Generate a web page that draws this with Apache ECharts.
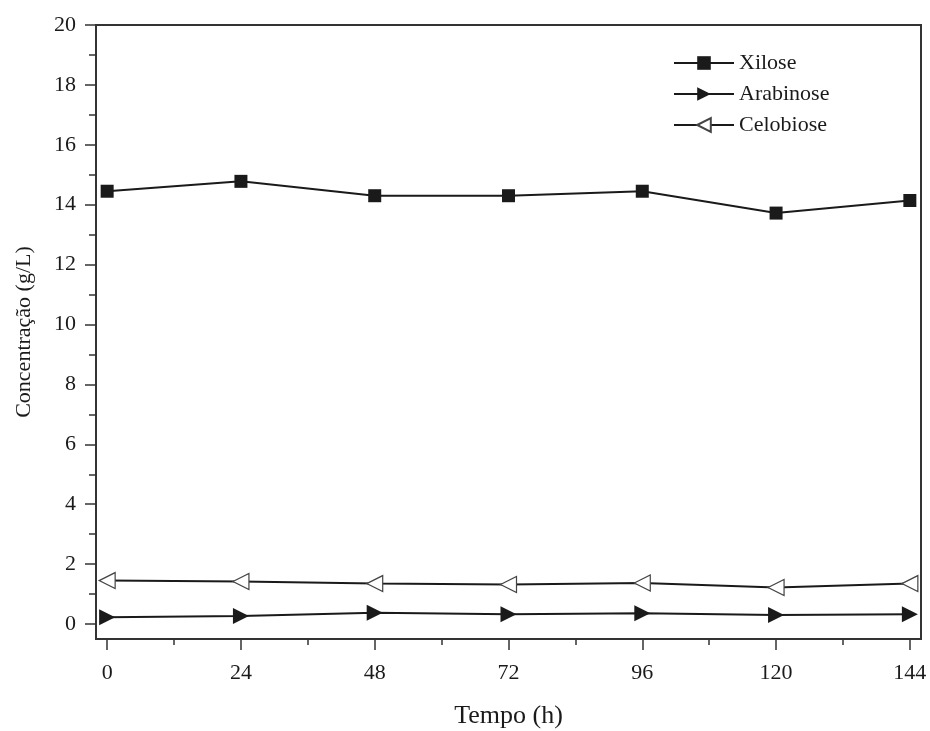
<!DOCTYPE html>
<html><head><meta charset="utf-8">
<script src="https://cdn.jsdelivr.net/npm/echarts@6/dist/echarts.min.js"></script>
<style>html,body{margin:0;padding:0;background:#fff}#c{width:930px;height:731px}</style>
</head><body><div id="c"></div>
<script>
const tempo = [0, 24, 48, 72, 96, 120, 144];
const xilose = [14.45, 14.78, 14.30, 14.30, 14.45, 13.72, 14.14];
const arabinose = [0.23, 0.27, 0.38, 0.33, 0.36, 0.30, 0.33];
const celobiose = [1.45, 1.42, 1.35, 1.32, 1.37, 1.22, 1.35];
const xTicks = [0, 24, 48, 72, 96, 120, 144];
const xMinor = [12, 36, 60, 84, 108, 132];
const yTicks = [0, 2, 4, 6, 8, 10, 12, 14, 16, 18, 20];
const yMinor = [1, 3, 5, 7, 9, 11, 13, 15, 17, 19];

const font = 'Liberation Serif';
const col = '#1a1a1a';
const chart = echarts.init(document.getElementById('c'));
const pair = (arr) => tempo.map((t, i) => [t, arr[i]]);
chart.setOption({
  animation: false,
  textStyle: { fontFamily: font },
  grid: { left: 96, right: 9, top: 25, bottom: 92, outerBoundsMode: 'none', containLabel: false,
          show: true, borderColor: '#333', borderWidth: 2 },
  legend: {
    orient: 'vertical', left: 668, top: 47, itemWidth: 60, itemHeight: 17, itemGap: 9,
    textStyle: { fontFamily: font, fontSize: 22, color: col },
    data: ['Xilose', 'Arabinose', 'Celobiose']
  },
  xAxis: [{
    type: 'value', min: -2, max: 146, position: 'bottom',
    name: 'Tempo (h)', nameLocation: 'middle', nameGap: 64,
    nameTextStyle: { fontFamily: font, fontSize: 26, color: col },
    axisLine: { onZero: false, lineStyle: { color: '#333', width: 2 } },
    axisTick: { customValues: xTicks, length: 11, lineStyle: { color: '#333', width: 1.5 } },
    axisLabel: { customValues: xTicks, margin: 23, fontFamily: font, fontSize: 22, color: col },
    splitLine: { show: false }
  }, {
    type: 'value', min: -2, max: 146, position: 'bottom',
    axisLine: { show: false, onZero: false },
    axisTick: { customValues: xMinor, length: 6, lineStyle: { color: '#333', width: 1.5 } },
    axisLabel: { show: false }, splitLine: { show: false }
  }],
  yAxis: [{
    type: 'value', min: -0.5, max: 20, position: 'left',
    name: 'Concentração (g/L)', nameLocation: 'middle', nameGap: 61,
    nameTextStyle: { fontFamily: font, fontSize: 22, color: col },
    axisLine: { show: true, onZero: false, lineStyle: { color: '#333', width: 2 } },
    axisTick: { show: true, customValues: yTicks, length: 11, lineStyle: { color: '#333', width: 1.5 } },
    axisLabel: { customValues: yTicks, margin: 20, fontFamily: font, fontSize: 22, color: col },
    splitLine: { show: false }
  }, {
    type: 'value', min: -0.5, max: 20, position: 'left',
    axisLine: { show: false, onZero: false },
    axisTick: { show: true, customValues: yMinor, length: 7, lineStyle: { color: '#333', width: 1.5 } },
    axisLabel: { show: false }, splitLine: { show: false }
  }],
  series: [{
    name: 'Xilose', type: 'line', data: pair(xilose),
    symbol: 'rect', symbolSize: 13, color: col,
    lineStyle: { color: col, width: 2 }, itemStyle: { color: col }
  }, {
    name: 'Arabinose', type: 'line', data: pair(arabinose),
    symbol: 'triangle', symbolRotate: -90, symbolSize: 16, color: col,
    lineStyle: { color: col, width: 2 }, itemStyle: { color: col }
  }, {
    name: 'Celobiose', type: 'line', data: pair(celobiose),
    symbol: 'triangle', symbolRotate: 90, symbolSize: 16, color: col,
    lineStyle: { color: col, width: 2 }, itemStyle: { color: '#fff', borderColor: '#444', borderWidth: 1.2 }
  }]
});
</script></body></html>
